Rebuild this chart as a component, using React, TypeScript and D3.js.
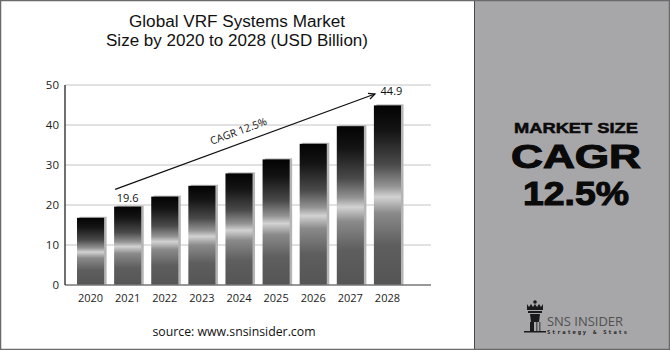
import * as d3 from 'd3';

const years = ['2020', '2021', '2022', '2023', '2024', '2025', '2026', '2027', '2028'];
const marketSize = [16.8, 19.6, 22.1, 24.8, 27.9, 31.4, 35.3, 39.7, 44.9];
const yTicks = [0, 10, 20, 30, 40, 50];
const titleLines = ['Global VRF Systems Market', 'Size by 2020 to 2028 (USD Billion)'];
const titleWidths = [216, 262];
const labelledYears = ['2021', '2028'];
const labelValues = ['19.6', '44.9'];

const width = 670;
const height = 350;
const font = "'Open Sans', sans-serif";
const tightFont = "'Liberation Sans', Arial, sans-serif";

export default function App() {
  const x = d3.scaleBand<string>().domain(years).range([72, 406]).paddingInner(0.27).paddingOuter(0.135);
  const y = d3.scaleLinear().domain([0, 50]).range([285, 85]);
  const gridRight = 431;
  const axisLeft = 65;

  // arrow from above 2021 up to the 2028 label
  const ax1 = (x('2021') ?? 0) + 1;
  const ay1 = y(23.9);
  const ax2 = (x('2028') ?? 0) + 1;
  const ay2 = y(47.75);
  const rad = Math.atan2(ay2 - ay1, ax2 - ax1);
  const angle = (rad * 180) / Math.PI;
  const head = 7;
  const h1 = [ax2 - head * Math.cos(rad - 0.45), ay2 - head * Math.sin(rad - 0.45)];
  const h2 = [ax2 - head * Math.cos(rad + 0.45), ay2 - head * Math.sin(rad + 0.45)];
  const tx = ax1 + (ax2 - ax1) * 0.48;
  const ty = ay1 + (ay2 - ay1) * 0.48;

  return (
    <svg
      width={width}
      height={height}
      style={{ position: 'absolute', left: 0, top: 0, display: 'block' }}
    >
      <defs>
        <linearGradient id="bar-grad" x1="0" x2="0" y1="0" y2="1">
          <stop offset="0%" stopColor="#030303" />
          <stop offset="14%" stopColor="#141414" />
          <stop offset="33%" stopColor="#4a4a4a" />
          <stop offset="45%" stopColor="#939393" />
          <stop offset="51%" stopColor="#d2d2d2" />
          <stop offset="60%" stopColor="#8a8a8a" />
          <stop offset="78%" stopColor="#5e5e5e" />
          <stop offset="100%" stopColor="#555555" />
        </linearGradient>
      </defs>

      <rect x={0} y={0} width={width} height={height} fill="#ffffff" />
      <rect x={474} y={0} width={width - 474} height={height} fill="#a7a7aa" />
      <line x1={474.5} y1={0} x2={474.5} y2={height} stroke="#4a4a4a" strokeWidth={1} />
      <rect x={0.5} y={0.5} width={width - 1} height={height - 1} fill="none" stroke="#6a6a6a" strokeWidth={1.5} />

      {titleLines.map((line, i) => (
        <text
          key={line}
          x={237}
          y={27 + i * 18.5}
          textAnchor="middle"
          fontFamily={tightFont}
          fontSize={16}
          textLength={titleWidths[i]}
          lengthAdjust="spacingAndGlyphs"
          fill="#111"
        >
          {line}
        </text>
      ))}

      {yTicks.map((t) => (
        <g key={t}>
          {t > 0 && (
            <line x1={axisLeft} x2={gridRight} y1={y(t)} y2={y(t)} stroke="#c4c4c4" strokeWidth={1} />
          )}
          <text
            x={59}
            y={y(t) + 4}
            textAnchor="end"
            fontFamily={font}
            fontSize={11.5}
            fill="#222"
          >
            {t}
          </text>
        </g>
      ))}

      {years.map((yr, i) => (
        <g key={yr}>
          <rect
            x={(x(yr) ?? 0) + 2.5}
            y={y(marketSize[i]) - 1}
            width={x.bandwidth()}
            height={y(0) - y(marketSize[i]) + 1}
            fill="#b4b4b4"
          />
          <rect
            x={x(yr)}
            y={y(marketSize[i])}
            width={x.bandwidth()}
            height={y(0) - y(marketSize[i])}
            fill="url(#bar-grad)"
          />
          <text
            x={(x(yr) ?? 0) + x.bandwidth() / 2}
            y={302}
            textAnchor="middle"
            fontFamily={font}
            fontSize={11}
            fill="#222"
          >
            {yr}
          </text>
        </g>
      ))}

      <line x1={axisLeft} x2={gridRight} y1={y(0)} y2={y(0)} stroke="#777" strokeWidth={1.5} />
      <line x1={axisLeft} x2={axisLeft} y1={y(50)} y2={y(0)} stroke="#111" strokeWidth={1.2} />

      {labelledYears.map((yr, i) => (
        <text
          key={yr}
          x={(x(yr) ?? 0) + x.bandwidth() / 2 + (i === 1 ? 4 : 0)}
          y={i === 0 ? y(marketSize[1]) - 4.5 : y(47.6)}
          textAnchor="middle"
          fontFamily={font}
          fontSize={11}
          fill="#111"
        >
          {labelValues[i]}
        </text>
      ))}

      <line x1={ax1} y1={ay1} x2={ax2} y2={ay2} stroke="#111" strokeWidth={1.3} />
      <polyline
        points={`${h1[0]},${h1[1]} ${ax2},${ay2} ${h2[0]},${h2[1]}`}
        fill="none"
        stroke="#111"
        strokeWidth={1.3}
      />
      <text
        transform={`translate(${tx},${ty - 9}) rotate(${angle})`}
        textAnchor="middle"
        fontFamily={font}
        fontSize={10.5}
        fill="#111"
      >
        CAGR 12.5%
      </text>

      <text x={234} y={336} textAnchor="middle" fontFamily={font} fontSize={12.3} fill="#111">
        source: www.snsinsider.com
      </text>

      <g fill="#0a0a0a" stroke="#0a0a0a" fontFamily={tightFont} fontWeight={700} textAnchor="middle">
        <text
          x={576}
          y={133}
          fontSize={15}
          strokeWidth={0.5}
          textLength={124}
          lengthAdjust="spacingAndGlyphs"
        >
          MARKET SIZE
        </text>
        <text
          x={576}
          y={167.5}
          fontSize={33}
          strokeWidth={1.1}
          textLength={130}
          lengthAdjust="spacingAndGlyphs"
        >
          CAGR
        </text>
        <text
          x={576}
          y={205}
          fontSize={33}
          strokeWidth={1.1}
          textLength={106}
          lengthAdjust="spacingAndGlyphs"
        >
          12.5%
        </text>
      </g>

      <g fill="#1a1a1a">
        <circle cx={535} cy={302} r={1.8} />
        <path d="M527,304 L529,307 L531,304 L533,307 L535,304 L537,307 L539,304 L541,307 L543,304 L543,310 L527,310 Z" />
        <rect x={528} y={311} width={14} height={2} />
        <path d="M530,314 L540,314 L539,322 L531,322 Z" />
        <rect x={530} y={322} width={4} height={9} />
        <rect x={536} y={322} width={1.5} height={9} fill="#555" />
        <rect x={539} y={322} width={1.5} height={9} fill="#555" />
        <rect x={524} y={331} width={22} height={1.5} />
      </g>
      <text x={547} y={326} fontFamily={font} fontSize={12.5} textLength={76} lengthAdjust="spacingAndGlyphs" fill="#505050">
        SNS INSIDER
      </text>
      <text x={547} y={334} fontFamily="'DejaVu Sans Mono', monospace" fontWeight={700} fontSize={5.5} textLength={80} lengthAdjust="spacing" fill="#222">
        Strategy &amp; Stats
      </text>
    </svg>
  );
}
